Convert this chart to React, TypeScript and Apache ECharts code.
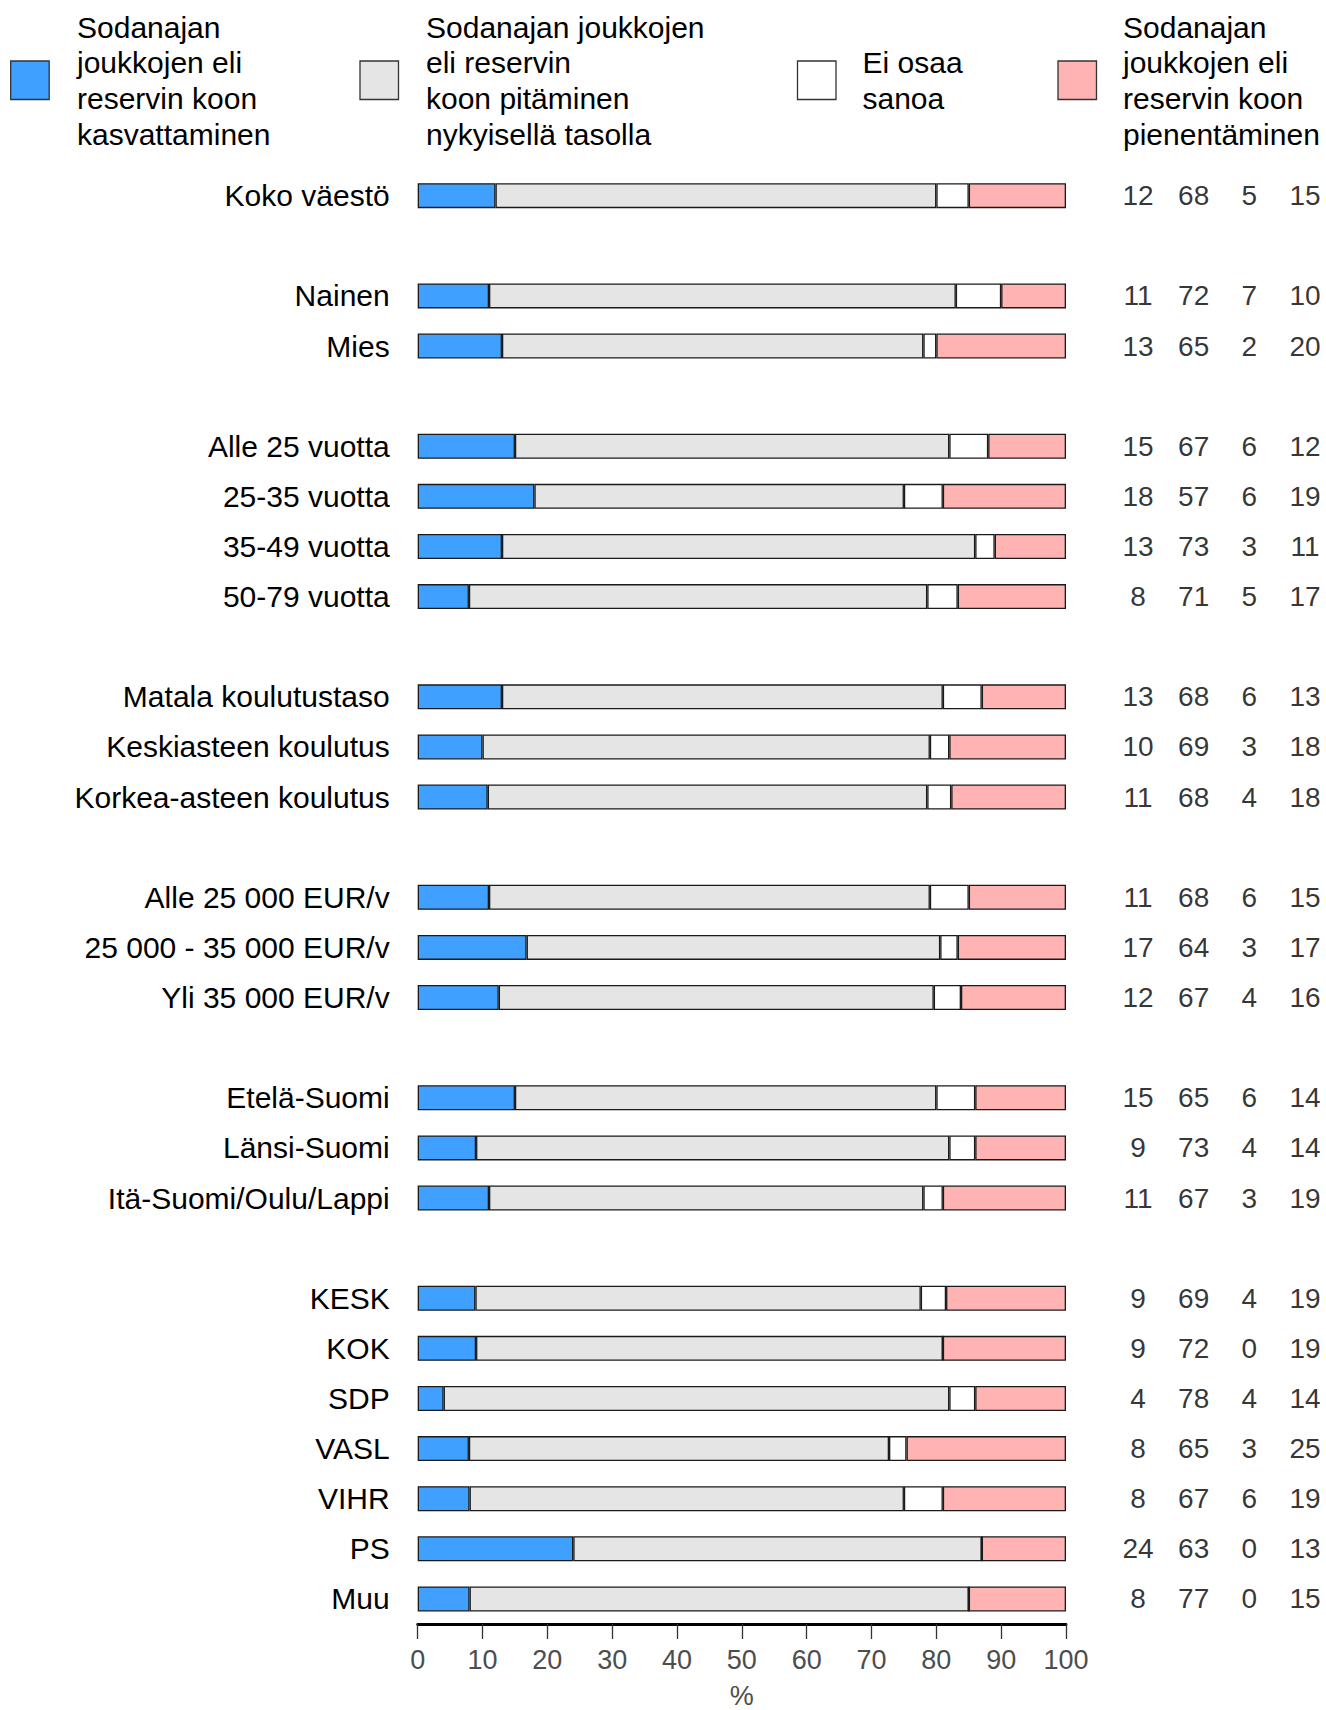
import React, { useEffect, useRef } from "react";
import * as echarts from "echarts";

// Row labels per group (groups separated by an empty slot)
const groups: string[][] = [
  ["Koko väestö"],
  ["Nainen", "Mies"],
  ["Alle 25 vuotta", "25-35 vuotta", "35-49 vuotta", "50-79 vuotta"],
  ["Matala koulutustaso", "Keskiasteen koulutus", "Korkea-asteen koulutus"],
  ["Alle 25 000 EUR/v", "25 000 - 35 000 EUR/v", "Yli 35 000 EUR/v"],
  ["Etelä-Suomi", "Länsi-Suomi", "Itä-Suomi/Oulu/Lappi"],
  ["KESK", "KOK", "SDP", "VASL", "VIHR", "PS", "Muu"],
];

const seriesNames = [
  "Sodanajan\njoukkojen eli\nreservin koon\nkasvattaminen",
  "Sodanajan joukkojen\neli reservin\nkoon pitäminen\nnykyisellä tasolla",
  "Ei osaa\nsanoa",
  "Sodanajan\njoukkojen eli\nreservin koon\npienentäminen",
];
const colors = ["#3FA0FF", "#E5E5E5", "#FFFFFF", "#FFB3B3"];

// Bar lengths (%)
const increase = [12, 11, 13, 15, 18, 13, 7.9, 13, 10, 10.8, 11, 16.8, 12.5, 15, 9, 11, 8.9, 9, 4, 7.9, 8, 24, 8];
const keep = [68, 72, 65, 67, 57, 73, 70.7, 68, 69, 67.8, 68, 63.8, 67.1, 65, 73, 67, 68.7, 72, 78, 64.8, 67, 63, 77];
const dontKnow = [5, 7, 2, 6, 6, 3, 4.7, 6, 3, 3.7, 6, 2.7, 4.2, 6, 4, 3, 3.9, 0, 4, 2.7, 6, 0, 0];
const decrease = [15, 10, 20, 12, 19, 11, 16.7, 13, 18, 17.7, 15, 16.7, 16.2, 14, 14, 19, 18.5, 19, 14, 24.6, 19, 13, 15];

// Printed (rounded) numbers on the right
const increaseLbl = [12, 11, 13, 15, 18, 13, 8, 13, 10, 11, 11, 17, 12, 15, 9, 11, 9, 9, 4, 8, 8, 24, 8];
const keepLbl = [68, 72, 65, 67, 57, 73, 71, 68, 69, 68, 68, 64, 67, 65, 73, 67, 69, 72, 78, 65, 67, 63, 77];
const dontKnowLbl = [5, 7, 2, 6, 6, 3, 5, 6, 3, 4, 6, 3, 4, 6, 4, 3, 4, 0, 4, 3, 6, 0, 0];
const decreaseLbl = [15, 10, 20, 12, 19, 11, 17, 13, 18, 18, 15, 17, 16, 14, 14, 19, 19, 19, 14, 25, 19, 13, 15];

const xTicks = [0, 10, 20, 30, 40, 50, 60, 70, 80, 90, 100];

const FONT = "'Liberation Sans', Arial, Helvetica, sans-serif";

export default function App() {
  const ref = useRef<HTMLDivElement>(null);

  useEffect(() => {
    if (!ref.current) return;
    const chart = echarts.init(ref.current, undefined, { renderer: "svg" });

    const categories: string[] = [];
    const slotOf: number[] = [];
    groups.forEach((g, gi) => {
      if (gi > 0) categories.push("");
      g.forEach((name) => {
        slotOf.push(categories.length);
        categories.push(name);
      });
    });
    const toSlots = (vals: number[]) => {
      const arr: (number | null)[] = categories.map(() => null);
      vals.forEach((v, i) => {
        arr[slotOf[i]] = v;
      });
      return arr;
    };

    const barVals = [increase, keep, dontKnow, decrease];
    const lblVals = [increaseLbl, keepLbl, dontKnowLbl, decreaseLbl];

    const barSeries = barVals.map((vals, k) => ({
      name: seriesNames[k],
      type: "bar",
      stack: "total",
      xAxisIndex: 0,
      yAxisIndex: 0,
      barWidth: 25,
      data: toSlots(vals),
      itemStyle: { color: colors[k], borderColor: "#1a1a1a", borderWidth: 1.3 },
      emphasis: { disabled: true },
      silent: true,
    }));

    const numSeries = lblVals.map((vals, k) => ({
      type: "scatter",
      xAxisIndex: 1,
      yAxisIndex: 1,
      symbolSize: 1,
      itemStyle: { color: "rgba(0,0,0,0)" },
      silent: true,
      data: vals.map((v, i) => [k, slotOf[i], v]),
      label: {
        show: true,
        position: "inside",
        formatter: (p: any) => String(p.value[2]),
        fontSize: 28,
        fontFamily: FONT,
        color: "#000",
      },
    }));

    const legendGraphics: any[] = [];
    const legendPos = [
      { sx: 10.7, tx: 77 },
      { sx: 360, tx: 426 },
      { sx: 797.5, tx: 862.5 },
      { sx: 1058, tx: 1123 },
    ];
    legendPos.forEach((p, k) => {
      legendGraphics.push({
        type: "rect",
        shape: { x: p.sx, y: 61, width: 38.5, height: 38.5 },
        style: { fill: colors[k], stroke: "#333", lineWidth: 1.3 },
        silent: true,
      });
      legendGraphics.push({
        type: "text",
        x: p.tx,
        y: 80.7,
        style: {
          text: seriesNames[k],
          font: `30px ${FONT}`,
          fill: "#000",
          lineHeight: 35.8,
          verticalAlign: "middle",
          align: "left",
        },
        silent: true,
      });
    });

    chart.setOption({
      animation: false,
      grid: [
        { left: 417.7, right: 260, top: 170.6, bottom: 86, containLabel: false, outerBoundsMode: "none" },
        { left: 1138, right: 21, top: 170.6, bottom: 86, containLabel: false, outerBoundsMode: "none" },
      ],
      xAxis: [
        {
          type: "value",
          gridIndex: 0,
          min: xTicks[0],
          max: xTicks[xTicks.length - 1],
          interval: 10,
          splitLine: { show: false },
          axisLine: { show: true, lineStyle: { color: "#000", width: 2.8 } },
          axisTick: { show: true, length: 15, lineStyle: { color: "#333", width: 1.3 } },
          axisLabel: { fontSize: 27, fontFamily: FONT, color: "#4d4d4d", margin: 22 },
          name: "%",
          nameLocation: "middle",
          nameGap: 58,
          nameTextStyle: { fontSize: 27, fontFamily: FONT, color: "#4d4d4d" },
        },
        {
          type: "value",
          gridIndex: 1,
          min: 0,
          max: 3,
          show: false,
        },
      ],
      yAxis: [
        {
          type: "category",
          gridIndex: 0,
          data: categories,
          inverse: true,
          axisLine: { show: false },
          axisTick: { show: false },
          splitLine: { show: false },
          axisLabel: { fontSize: 30, fontFamily: FONT, color: "#000", margin: 28, interval: 0 },
        },
        {
          type: "category",
          gridIndex: 1,
          data: categories,
          inverse: true,
          show: false,
        },
      ],
      series: [...barSeries, ...numSeries],
      graphic: legendGraphics,
    });

    return () => chart.dispose();
  }, []);

  return (
    <div
      ref={ref}
      style={{ position: "absolute", left: 0, top: 0, width: 1326, height: 1710, background: "#fff" }}
    />
  );
}
